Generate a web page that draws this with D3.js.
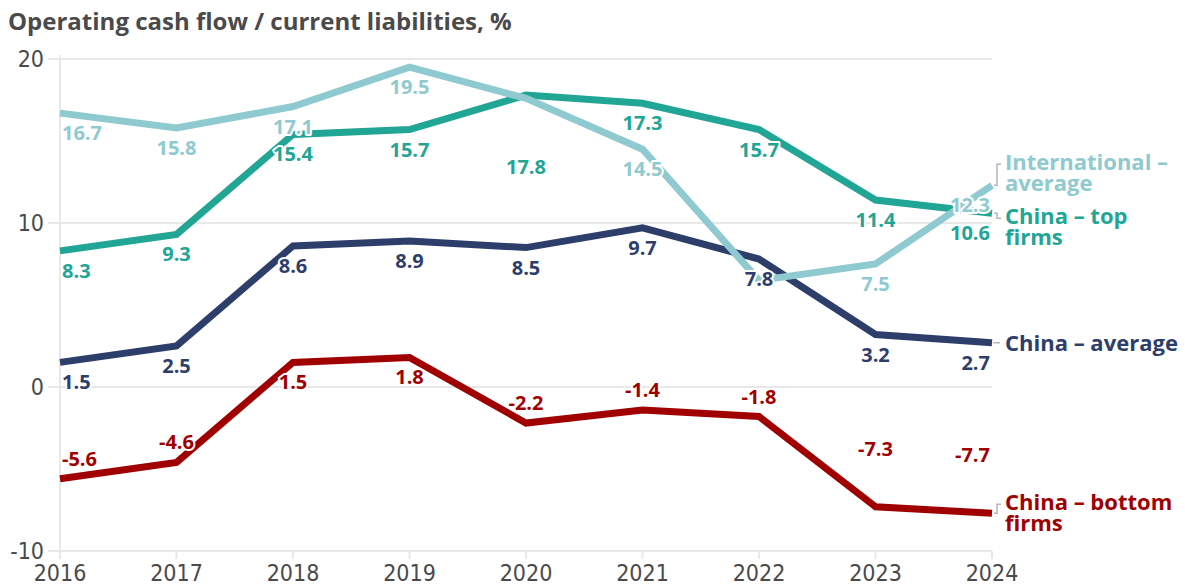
<!DOCTYPE html>
<html>
<head>
<meta charset="utf-8">
<script src="https://cdn.jsdelivr.net/npm/d3@7"></script>
<style>
  body { margin: 0; background: #fff; }
  svg { display: block; }
  .tick-label { font-family: "Liberation Sans Narrow", "DejaVu Sans Condensed", "Roboto", sans-serif; font-size: 23px; fill: #4a4a4a; }
  .val { font-family: "Open Sans", "Roboto", sans-serif; font-weight: 700; font-size: 20px; paint-order: stroke; stroke: #fff; stroke-width: 4px; stroke-linejoin: round; }
  .end-label { font-family: "Open Sans", "Roboto", sans-serif; font-weight: 700; font-size: 22px; }
</style>
</head>
<body>
<div id="chart"></div>
<script>
// *** Data
var years = [2016, 2017, 2018, 2019, 2020, 2021, 2022, 2023, 2024];
var intlAverage = [16.7, 15.8, 17.1, 19.5, 17.6, 14.5, 6.5, 7.5, 12.3];
var chinaTop = [8.3, 9.3, 15.4, 15.7, 17.8, 17.3, 15.7, 11.4, 10.6];
var chinaAverage = [1.5, 2.5, 8.6, 8.9, 8.5, 9.7, 7.8, 3.2, 2.7];
var chinaBottom = [-5.6, -4.6, 1.5, 1.8, -2.2, -1.4, -1.8, -7.3, -7.7];
var yTicks = [-10, 0, 10, 20];
var title = "Operating cash flow / current liabilities, %";

// drawing order: last one ends on top
var series = [
    { key: "bottom", name: ["China \u2013 bottom", "firms"], values: chinaBottom, color: "#a00000" },
    { key: "avg", name: ["China \u2013 average"], values: chinaAverage, color: "#2e3e6b" },
    { key: "top", name: ["China \u2013 top", "firms"], values: chinaTop, color: "#21a595" },
    { key: "intl", name: ["International \u2013", "average"], values: intlAverage, color: "#8ecad0" }
];

// *** label placement tweaks (px from the point, + is below)
function labelOffset(key, year) {
    if (key === "bottom") {
        if (year === 2018 || year === 2019) return 20;
        if (year >= 2023) return -58;
        return -20;
    }
    if (key === "top" && year === 2020) return 72;
    return 20;
}
var hidden = { "intl-2020": true, "intl-2022": true };
// end label first-line baselines, as offsets from the last point
var endShift = { intl: -15, top: 11, avg: 8, bottom: -3 };

var width = 1185, height = 586;

var x = d3.scaleLinear().domain([2016, 2024]).range([60, 992]);
var y = d3.scaleLinear().domain([-10, 20]).range([551, 59]);

var svg = d3.select("#chart").append("svg")
    .attr("width", width)
    .attr("height", height);

svg.append("text")
    .attr("x", 8)
    .attr("y", 30)
    .style("font-family", "'Open Sans', Roboto, sans-serif")
    .style("font-weight", 700)
    .style("font-size", "24px")
    .style("fill", "#4a4a4a")
    .text(title);

// grid
svg.append("g").selectAll("line")
    .data(yTicks)
    .enter().append("line")
    .attr("x1", 48).attr("x2", x(2024))
    .attr("y1", function(d) { return y(d); })
    .attr("y2", function(d) { return y(d); })
    .attr("stroke", "#e8e8e8")
    .attr("stroke-width", 2);

svg.append("line")
    .attr("x1", x(2016)).attr("x2", x(2016))
    .attr("y1", y(20) - 4).attr("y2", y(-10) + 8)
    .attr("stroke", "#e8e8e8")
    .attr("stroke-width", 2);

svg.append("g").selectAll("line")
    .data(years.slice(1))
    .enter().append("line")
    .attr("x1", function(d) { return x(d); })
    .attr("x2", function(d) { return x(d); })
    .attr("y1", y(-10)).attr("y2", y(-10) + 8)
    .attr("stroke", "#e8e8e8")
    .attr("stroke-width", 2);

svg.append("g").selectAll("text")
    .data(yTicks)
    .enter().append("text")
    .attr("class", "tick-label")
    .attr("x", 44)
    .attr("y", function(d) { return y(d); })
    .attr("dy", "0.35em")
    .attr("text-anchor", "end")
    .text(function(d) { return d; });

svg.append("g").selectAll("text")
    .data(years)
    .enter().append("text")
    .attr("class", "tick-label")
    .attr("x", function(d) { return x(d); })
    .attr("y", 581)
    .attr("text-anchor", "middle")
    .text(function(d) { return d; });

// lines
var line = d3.line()
    .x(function(d, i) { return x(years[i]); })
    .y(function(d) { return y(d); });

series.forEach(function(s) {
    svg.append("path")
        .datum(s.values)
        .attr("fill", "none")
        .attr("stroke", s.color)
        .attr("stroke-width", 7)
        .attr("stroke-linejoin", "miter")
        .attr("d", line);
});

// value labels
series.forEach(function(s) {
    svg.append("g").selectAll("text")
        .data(s.values.map(function(v, i) { return { v: v, year: years[i] }; })
            .filter(function(d) { return !hidden[s.key + "-" + d.year]; }))
        .enter().append("text")
        .attr("class", "val")
        .attr("fill", s.color)
        .attr("x", function(d) { return x(d.year) + (d.year === 2016 ? 2 : d.year === 2024 ? -2 : 0); })
        .attr("y", function(d) { return y(d.v) + labelOffset(s.key, d.year); })
        .attr("dy", "0.35em")
        .attr("text-anchor", function(d) { return d.year === 2016 ? "start" : d.year === 2024 ? "end" : "middle"; })
        .text(function(d) { return d.v.toFixed(1); });
});

// end labels + connectors
series.forEach(function(s) {
    var yEnd = y(s.values[s.values.length - 1]);
    var yl = yEnd + endShift[s.key];
    var conn = s.name.length > 1
        ? "M" + (x(2024) + 2) + "," + yEnd + "H997V" + (yl - 6) + "H1001"
        : "M" + (x(2024) + 1) + "," + yEnd + "H1000";
    svg.append("path")
        .attr("d", conn)
        .attr("fill", "none")
        .attr("stroke", "#b5b5b5")
        .attr("stroke-width", 1.5);
    var t = svg.append("text")
        .attr("class", "end-label")
        .attr("fill", s.color)
        .attr("x", 1005)
        .attr("y", yl);
    s.name.forEach(function(n, i) {
        t.append("tspan")
            .attr("x", 1005)
            .attr("dy", i === 0 ? 0 : 21)
            .text(n);
    });
});
</script>
</body>
</html>
